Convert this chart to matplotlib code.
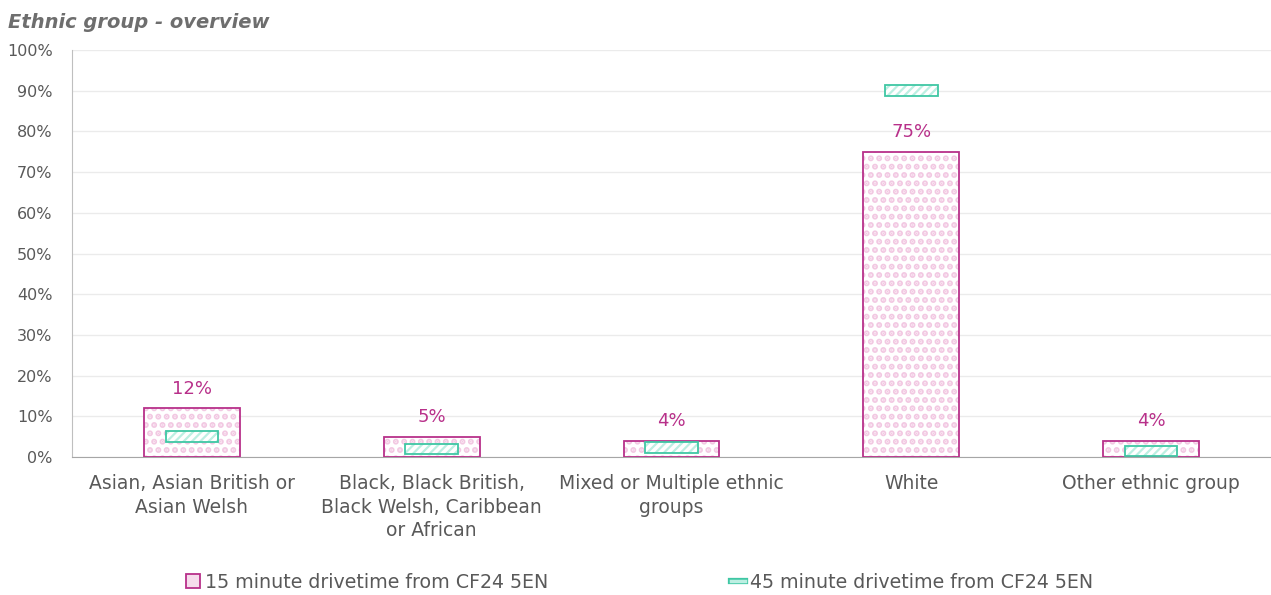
import numpy as np
import matplotlib.pyplot as plt
import matplotlib.patheffects as pe
from matplotlib.patches import Patch
from matplotlib.lines import Line2D

# データ
categories = ["Asian, Asian British or\nAsian Welsh",
              "Black, Black British,\nBlack Welsh, Caribbean\nor African",
              "Mixed or Multiple ethnic\ngroups",
              "White",
              "Other ethnic group"]
drive_15 = [12, 5, 4, 75, 4]
drive_45 = [5, 2, 2.3, 90, 1.5]
labels_15 = ["12%", "5%", "4%", "75%", "4%"]
series_names = ["15 minute drivetime from CF24 5EN", "45 minute drivetime from CF24 5EN"]

grey = "#595959"
magenta = "#B8308A"
pink_dots = "#F2C8E2"
teal = "#3FC7A4"
teal_hatch = "#BDEFE2"

plt.rcParams['font.family'] = ['DejaVu Sans']

fig = plt.figure(figsize=(12.71, 5.95), dpi=100)
ax = fig.add_axes([72/1271, 1 - 457/595, 1199/1271, 407/595])

x = np.arange(len(categories))

# 15分 : 点模様の棒 (模様と枠を別々に描く)
plt.rcParams['hatch.color'] = pink_dots
bars = ax.bar(x, drive_15, width=0.4, color="white", edgecolor=pink_dots, hatch="..", linewidth=0, zorder=2)
for b in bars:
    b.set_hatch_linewidth(3.0)
ax.bar(x, drive_15, width=0.4, fill=False, edgecolor=magenta, linewidth=1.3, zorder=3)

# 45分 : マーカー (値を中心にした小さな箱)
mh = 2.6
marks = ax.bar(x, [mh] * len(x), bottom=np.array(drive_45) - mh / 2, width=0.22,
               color="white", edgecolor=teal_hatch, hatch="////", linewidth=0, zorder=4)
for b in marks:
    b.set_hatch_linewidth(1.6)
ax.bar(x, [mh] * len(x), bottom=np.array(drive_45) - mh / 2, width=0.22,
       fill=False, edgecolor=teal, linewidth=1.3, zorder=5)

# データラベル
for xi, v, lab in zip(x, drive_15, labels_15):
    ax.text(xi, v + 2.6, lab, ha="center", va="bottom", color=magenta, fontsize=13)

ax.set_xlim(-0.5, 4.5)
ax.set_ylim(0, 100)
ax.set_yticks(np.arange(0, 101, 10))
ax.set_yticklabels([f"{t}%" for t in range(0, 101, 10)], color=grey, fontsize=11.5)
ax.set_xticks(x)
ax.set_xticklabels(categories, color=grey, fontsize=13.5, linespacing=1.3)
ax.tick_params(axis="x", length=0, pad=12.5)
ax.tick_params(axis="y", length=0, pad=14)

ax.grid(axis="y", color="#EBEBEB", linewidth=1, zorder=0)
ax.set_axisbelow(True)
for s in ["top", "right"]:
    ax.spines[s].set_visible(False)
ax.spines["left"].set_color("#BFBFBF")
ax.spines["bottom"].set_color("#A6A6A6")

fig.text(8/1271, 1 - 23/595, "Ethnic group - overview", style="italic", fontweight="bold",
         color="#6E6E6E", fontsize=14, va="center", ha="left")

# 凡例
h15 = Patch(facecolor="#F6DCEC", edgecolor=magenta, linewidth=1.3)
h45 = Line2D([], [], color=teal_hatch, lw=2.5,
             path_effects=[pe.Stroke(linewidth=4.5, foreground=teal), pe.Normal()])
leg = fig.legend([h15, h45], series_names, loc="center", bbox_to_anchor=(0.503, 1 - 582/595),
                 ncol=2, frameon=False, fontsize=13.7, columnspacing=9.6,
                 handlelength=0.75, handleheight=0.75, handletextpad=0.25)
for t in leg.get_texts():
    t.set_color(grey)

fig.savefig("out.png", dpi=100)
